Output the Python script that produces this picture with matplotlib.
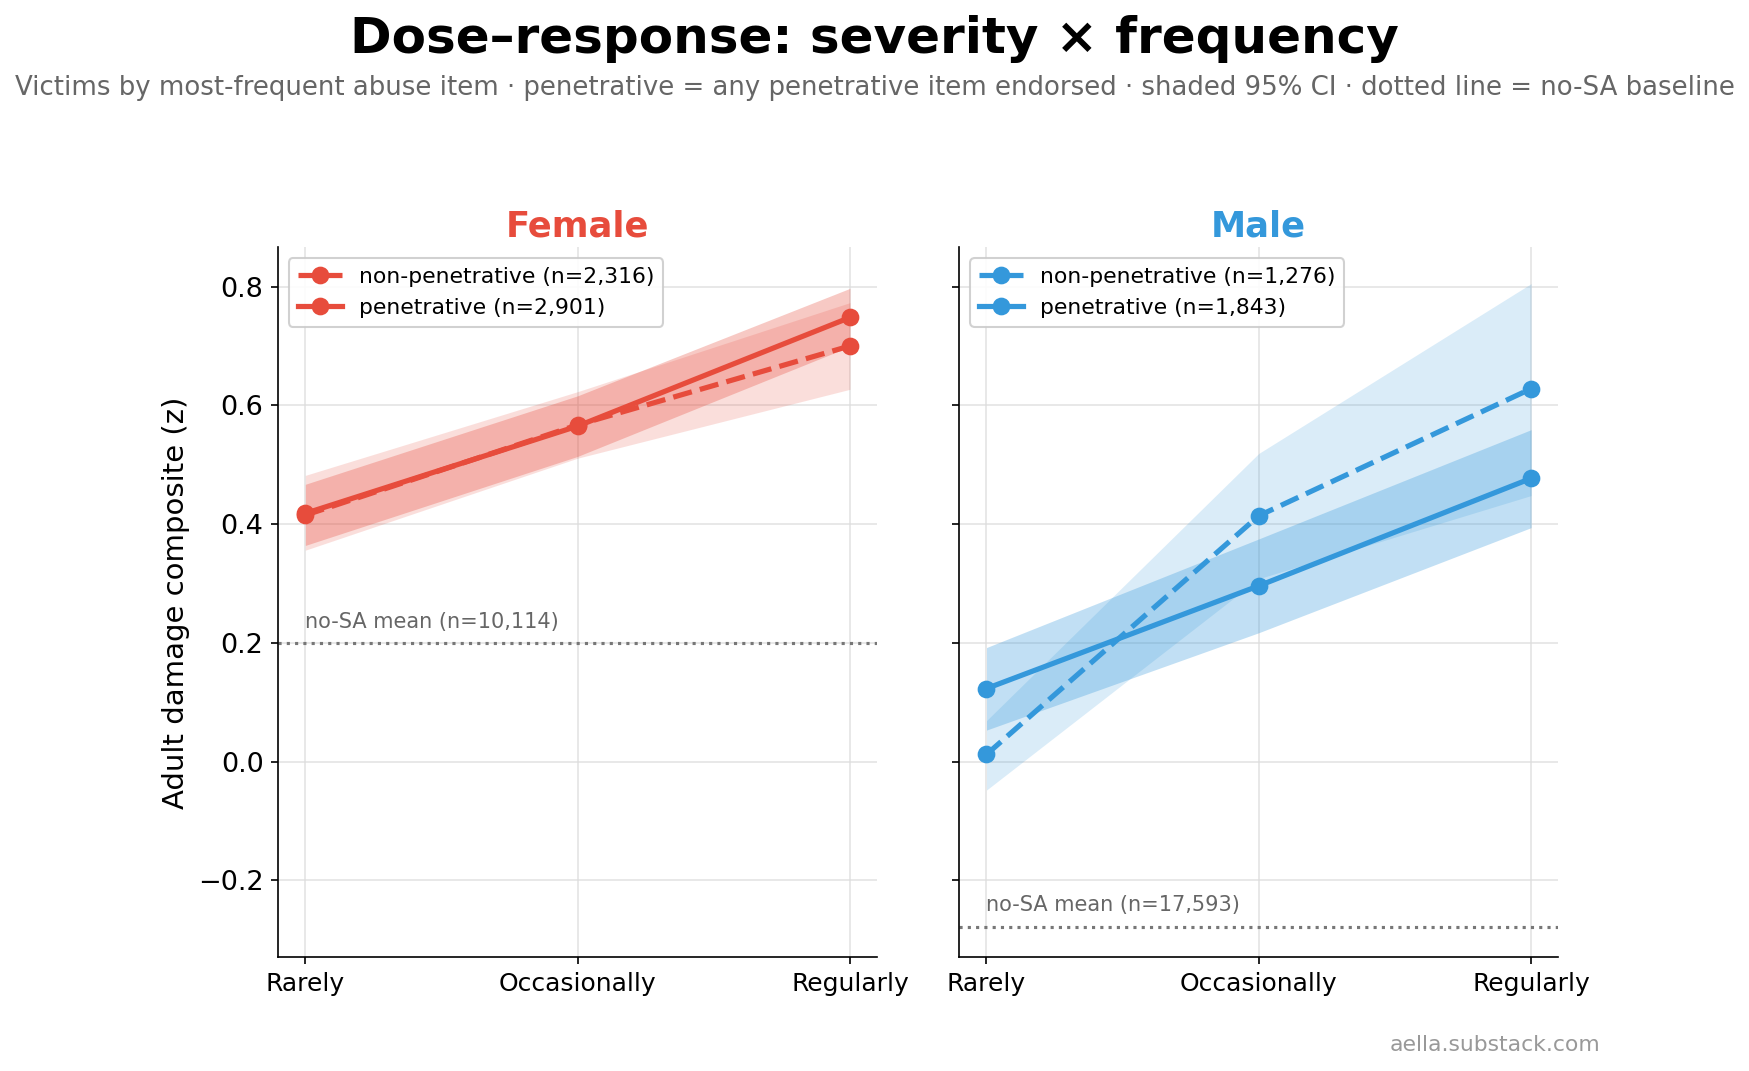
import matplotlib.pyplot as plt
import numpy as np

# Frequency categories on the x axis.
freq_labels = ["Rarely", "Occasionally", "Regularly"]

# Female series (mean, 95% CI).
f_nonpen_mean = [0.415, 0.567, 0.700]
f_nonpen_lo = [0.356, 0.511, 0.627]
f_nonpen_hi = [0.482, 0.623, 0.773]
f_pen_mean = [0.418, 0.565, 0.748]
f_pen_lo = [0.364, 0.514, 0.699]
f_pen_hi = [0.467, 0.616, 0.797]

# Male series (mean, 95% CI).
m_nonpen_mean = [0.012, 0.414, 0.628]
m_nonpen_lo = [-0.048, 0.308, 0.448]
m_nonpen_hi = [0.069, 0.519, 0.805]
m_pen_mean = [0.123, 0.296, 0.477]
m_pen_lo = [0.053, 0.217, 0.394]
m_pen_hi = [0.192, 0.375, 0.559]

# No-SA baselines.
f_baseline = 0.199
m_baseline = -0.279

f_n = {"nonpen": "2,316", "pen": "2,901", "base": "10,114"}
m_n = {"nonpen": "1,276", "pen": "1,843", "base": "17,593"}

FEMALE_COLOR = "#E74C3C"
MALE_COLOR = "#3498DB"


def draw_panel(ax, title, color, nonpen, pen, baseline, ns):
    x = np.arange(len(freq_labels))
    np_mean, np_lo, np_hi = nonpen
    p_mean, p_lo, p_hi = pen

    ax.fill_between(x, np_lo, np_hi, color=color, alpha=0.18, linewidth=0)
    ax.fill_between(x, p_lo, p_hi, color=color, alpha=0.30, linewidth=0)
    ax.plot(x, np_mean, color=color, linestyle="--", linewidth=2.5, marker="o",
            markersize=7.5, label=f"non-penetrative (n={ns['nonpen']})")
    ax.plot(x, p_mean, color=color, linestyle="-", linewidth=2.5, marker="o",
            markersize=7.5, label=f"penetrative (n={ns['pen']})")

    ax.axhline(baseline, color="#777777", linestyle=":", linewidth=1.5)
    ax.text(0, baseline + 0.02, f"no-SA mean (n={ns['base']})", fontsize=10,
            color="#666666", va="bottom", ha="left")

    ax.set_title(title, color=color, fontsize=17, fontweight="bold", pad=5)
    ax.set_xticks(x)
    ax.set_xticklabels(freq_labels, fontsize=12)
    ax.tick_params(axis="y", labelsize=13)
    ax.set_xlim(-0.1, 2.1)
    ax.grid(True, color="#dddddd", alpha=0.8, linewidth=0.8)
    ax.set_axisbelow(True)
    for side in ("top", "right"):
        ax.spines[side].set_visible(False)
    ax.legend(loc="upper left", fontsize=10.5, framealpha=0.9, labelspacing=0.5)


def main() -> None:
    fig, axes = plt.subplots(1, 2, figsize=(11.66, 7.14), dpi=150, sharey=True)
    fig.subplots_adjust(left=0.159, right=0.891, bottom=0.106, top=0.769, wspace=0.137)

    draw_panel(axes[0], "Female", FEMALE_COLOR,
               (f_nonpen_mean, f_nonpen_lo, f_nonpen_hi),
               (f_pen_mean, f_pen_lo, f_pen_hi), f_baseline, f_n)
    draw_panel(axes[1], "Male", MALE_COLOR,
               (m_nonpen_mean, m_nonpen_lo, m_nonpen_hi),
               (m_pen_mean, m_pen_lo, m_pen_hi), m_baseline, m_n)

    axes[0].set_ylim(-0.33, 0.866)
    axes[0].set_yticks([-0.2, 0.0, 0.2, 0.4, 0.6, 0.8])
    axes[0].set_ylabel("Adult damage composite (z)", fontsize=14)

    fig.text(0.5, 0.964, "Dose\u2013response: severity \u00d7 frequency", ha="center",
             va="center", fontsize=24, fontweight="bold")
    fig.text(0.5, 0.918, "Victims by most-frequent abuse item \u00b7 penetrative = any penetrative "
             "item endorsed \u00b7 shaded 95% CI \u00b7 dotted line = no-SA baseline",
             ha="center", va="center", fontsize=12.5, color="#666666")
    fig.text(0.915, 0.024, "aella.substack.com", ha="right", va="center",
             fontsize=10.5, color="#999999")

    fig.savefig("out.png", dpi=150)
    plt.close(fig)


if __name__ == "__main__":
    main()
